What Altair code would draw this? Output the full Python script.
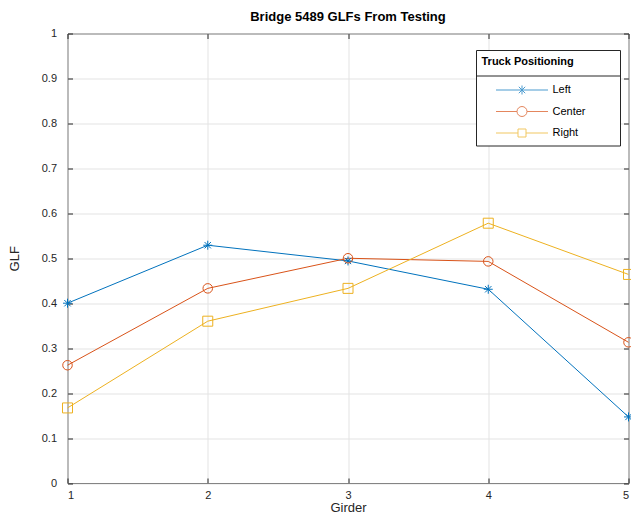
import altair as alt
import pandas as pd

# ---------------- data ----------------
girders = [1, 2, 3, 4, 5]
series_names = ["Left", "Center", "Right"]
left_glf = [0.400, 0.529, 0.494, 0.431, 0.147]
center_glf = [0.262, 0.433, 0.500, 0.493, 0.313]
right_glf = [0.167, 0.360, 0.433, 0.578, 0.464]
y_ticks = [0, 0.1, 0.2, 0.3, 0.4, 0.5, 0.6, 0.7, 0.8, 0.9, 1]
colors = ["#0072BD", "#D95319", "#EDB120"]

rows = []
for name, vals in zip(series_names, [left_glf, center_glf, right_glf]):
    for g, v in zip(girders, vals):
        rows.append({"girder": g, "glf": v, "series": name})
df = pd.DataFrame(rows)

W, H = 561, 449.5
TXT = "#262626"
GRID = "#e3e3e3"
FONT = "Liberation Sans"

# ---------------- symbols ----------------
ASTER = "M-1,0L1,0M0,-1L0,1M-0.707,-0.707L0.707,0.707M-0.707,0.707L0.707,-0.707"
L = 5.2
LEG_ASTER = (f"M-{L},0L{L},0M0,-0.9L0,0.9M-0.64,-0.64L0.64,0.64"
             f"M-0.64,0.64L0.64,-0.64")
LEG_CIRCLE = f"M-{L},0L-1,0M1,0L{L},0M-1,0A1,1 0 1,0 1,0A1,1 0 1,0 -1,0"
LEG_SQUARE = f"M-{L},0L-0.8,0M0.8,0L{L},0M-0.8,-0.8L0.8,-0.8L0.8,0.8L-0.8,0.8Z"

x_scale = alt.Scale(domain=[1, 5], nice=False, zero=False)
y_scale = alt.Scale(domain=[0, 1], nice=False, zero=False)
color_scale = alt.Scale(domain=series_names, range=colors)

base = alt.Chart(df)

# main axes (labels, grid)
x_main = alt.Axis(values=girders, format="d", grid=True, gridColor=GRID,
                  ticks=False, tickSize=0, domain=False, labelPadding=6,
                  labelFontSize=11, labelColor=TXT, title="Girder",
                  titleFontSize=13, titleFontWeight="normal", titleColor=TXT,
                  titlePadding=1)
y_main = alt.Axis(values=y_ticks, format="~g", grid=True, gridColor=GRID,
                  ticks=False, tickSize=0, domain=False, labelPadding=11,
                  labelFontSize=11, labelColor=TXT, title="GLF",
                  titleFontSize=13, titleFontWeight="normal", titleColor=TXT,
                  titlePadding=20)

lines = base.mark_line(strokeWidth=1).encode(
    x=alt.X("girder:Q", scale=x_scale, axis=x_main),
    y=alt.Y("glf:Q", scale=y_scale, axis=y_main),
    color=alt.Color("series:N", scale=color_scale, legend=None),
    detail="series:N",
)

# inward ticks on bottom and left edges
x_in_bottom = alt.Axis(orient="top", offset=-H, values=girders, labels=False,
                       ticks=True, tickSize=5, tickColor=TXT, grid=False,
                       domain=False, title=None)
y_in_left = alt.Axis(orient="right", offset=-W, values=y_ticks, labels=False,
                     ticks=True, tickSize=5, tickColor=TXT, grid=False,
                     domain=False, title=None)

points = base.mark_point(filled=False, strokeWidth=1, opacity=1).encode(
    x=alt.X("girder:Q", scale=x_scale, axis=x_in_bottom),
    y=alt.Y("glf:Q", scale=y_scale, axis=y_in_left),
    color=alt.Color("series:N", scale=color_scale, legend=None),
    shape=alt.Shape("series:N",
                    scale=alt.Scale(domain=series_names,
                                    range=[ASTER, "circle", "square"]),
                    legend=None),
    size=alt.Size("series:N",
                  scale=alt.Scale(domain=series_names, range=[81, 100, 81]),
                  legend=None),
)

# inward ticks on top and right edges + the legend
x_in_top = alt.Axis(orient="bottom", offset=-H, values=girders, labels=False,
                    ticks=True, tickSize=5, tickColor=TXT, grid=False,
                    domain=False, title=None)
y_in_right = alt.Axis(orient="left", offset=-W, values=y_ticks, labels=False,
                      ticks=True, tickSize=5, tickColor=TXT, grid=False,
                      domain=False, title=None)

LX, LY, LW, LH = 409, 17, 144, 95.5
leg = alt.Legend(orient="none", legendX=LX, legendY=LY,
                 title="Truck Positioning", titleFontSize=11,
                 titleFontWeight="bold", titleColor="#000000", titleFont=FONT,
                 titlePadding=18, labelFontSize=11, labelColor="#000000",
                 labelFont=FONT, symbolSize=100, symbolStrokeWidth=1,
                 symbolOffset=35, labelOffset=25, rowPadding=7.5, padding=5,
                 symbolFillColor="transparent")

frame = alt.Chart(pd.DataFrame({"k": [0]})).mark_rect(
    fill="white", stroke=TXT, strokeWidth=1
).encode(x=alt.value(LX), x2=alt.value(LX + LW), y=alt.value(LY),
         y2=alt.value(LY + LH))
sep = alt.Chart(pd.DataFrame({"k": [0]})).mark_rule(
    stroke=TXT, strokeWidth=1
).encode(x=alt.value(LX), x2=alt.value(LX + LW), y=alt.value(LY + 25.5))

legend_layer = base.transform_filter("datum.glf < 0").mark_point(
    filled=False, strokeWidth=1
).encode(
    x=alt.X("girder:Q", scale=x_scale, axis=x_in_top),
    y=alt.Y("glf:Q", scale=y_scale, axis=y_in_right),
    color=alt.Color("series:N", scale=color_scale, legend=leg),
    shape=alt.Shape("series:N",
                    scale=alt.Scale(domain=series_names,
                                    range=[LEG_ASTER, LEG_CIRCLE, LEG_SQUARE]),
                    legend=leg),
)

chart = alt.layer(lines, points, frame, sep, legend_layer).resolve_scale(
    color="independent", shape="independent"
).resolve_axis(
    x="independent", y="independent"
).properties(
    width=W, height=H,
    title=alt.TitleParams("Bridge 5489 GLFs From Testing", fontSize=13,
                          fontWeight="bold", color="#000000", font=FONT,
                          anchor="middle", offset=4),
    autosize=alt.AutoSizeParams(type="none"),
    padding={"left": 59.5, "top": 25.5, "right": 2.5, "bottom": 33},
).configure(
    font=FONT,
).configure_view(
    stroke=TXT, strokeWidth=1
)

chart.save("out.html", embed_options={"renderer": "svg", "actions": False})
